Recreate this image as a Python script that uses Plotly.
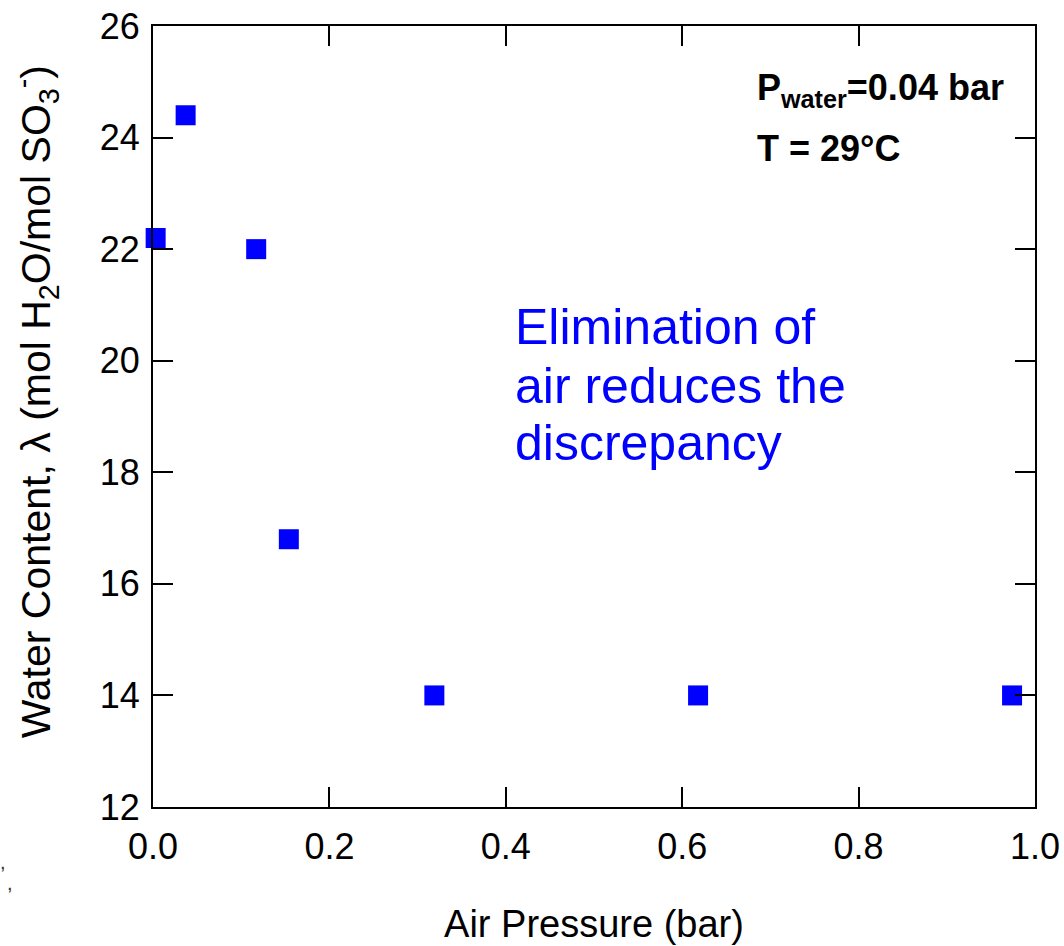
import plotly.graph_objects as go

air_pressure = [0.003, 0.037, 0.117, 0.154, 0.319, 0.618, 0.974]
water_content = [22.2, 24.4, 22.0, 16.8, 14.0, 14.0, 14.0]

x_ticks = [0.0, 0.2, 0.4, 0.6, 0.8, 1.0]
x_ticklabels = ["0.0", "0.2", "0.4", "0.6", "0.8", "1.0"]
y_ticks = [12, 14, 16, 18, 20, 22, 24, 26]

FONT = "Arial, Liberation Sans, Helvetica, sans-serif"

fig = go.Figure()
fig.add_trace(go.Scatter(
    x=air_pressure, y=water_content, mode="markers",
    marker=dict(symbol="square", size=20, color="#0000FF", line=dict(width=0)),
    showlegend=False, cliponaxis=False,
))

axis_common = dict(
    showline=True, linecolor="black", linewidth=2, mirror="ticks",
    ticks="inside", ticklen=20, tickwidth=2, tickcolor="black",
    showgrid=False, zeroline=False,
    tickfont=dict(family=FONT, size=36, color="black"),
)

fig.update_xaxes(range=[0, 1], tickvals=x_ticks, ticktext=x_ticklabels, ticklabelstandoff=7,
                 title=dict(text="Air Pressure (bar)", font=dict(family=FONT, size=38, color="black"), standoff=44),
                 **axis_common)
fig.update_yaxes(range=[12, 26], tickvals=y_ticks, ticklabelstandoff=4,
                 **axis_common)

# y-axis title (placed as rotated annotation to match its vertical offset)
fig.add_annotation(x=-0.133, y=0.519, xref="paper", yref="paper",
                   text="Water Content, \u03bb (mol H<sub>2</sub>O/mol SO<sub>3</sub><sup>-</sup>)",
                   textangle=-90, showarrow=False, xanchor="center", yanchor="middle",
                   font=dict(family=FONT, size=41, color="black"))

blue_lines = ["Elimination of", "air reduces the", "discrepancy"]
blue_y = [20.6, 19.55, 18.52]
for txt, yy in zip(blue_lines, blue_y):
    fig.add_annotation(x=0.408, y=yy, xref="x", yref="y", text=txt, showarrow=False,
                       xanchor="left", yanchor="middle",
                       font=dict(family=FONT, size=50, color="#0000FF"))

fig.add_annotation(x=0.682, y=24.85, xref="x", yref="y",
                   text="<b>P<sub>water</sub>=0.04 bar</b>", showarrow=False,
                   xanchor="left", yanchor="middle",
                   font=dict(family=FONT, size=36, color="black"))
fig.add_annotation(x=0.682, y=23.8, xref="x", yref="y",
                   text="<b>T = 29\u00b0C</b>", showarrow=False,
                   xanchor="left", yanchor="middle",
                   font=dict(family=FONT, size=36, color="black"))

# stray fragments at bottom-left edge
fig.add_annotation(x=-0.170, y=-0.070, xref="paper", yref="paper", text=",", showarrow=False,
                   xanchor="center", yanchor="middle", font=dict(family=FONT, size=20, color="#333333"))
fig.add_annotation(x=-0.162, y=-0.097, xref="paper", yref="paper", text=",", showarrow=False,
                   xanchor="center", yanchor="middle", font=dict(family=FONT, size=20, color="#333333"))

fig.update_layout(
    width=1064, height=946,
    margin=dict(l=153, r=29, t=26, b=139, autoexpand=False),
    paper_bgcolor="white", plot_bgcolor="white",
    font=dict(family=FONT, color="black"),
)

fig.write_html("out.html")
